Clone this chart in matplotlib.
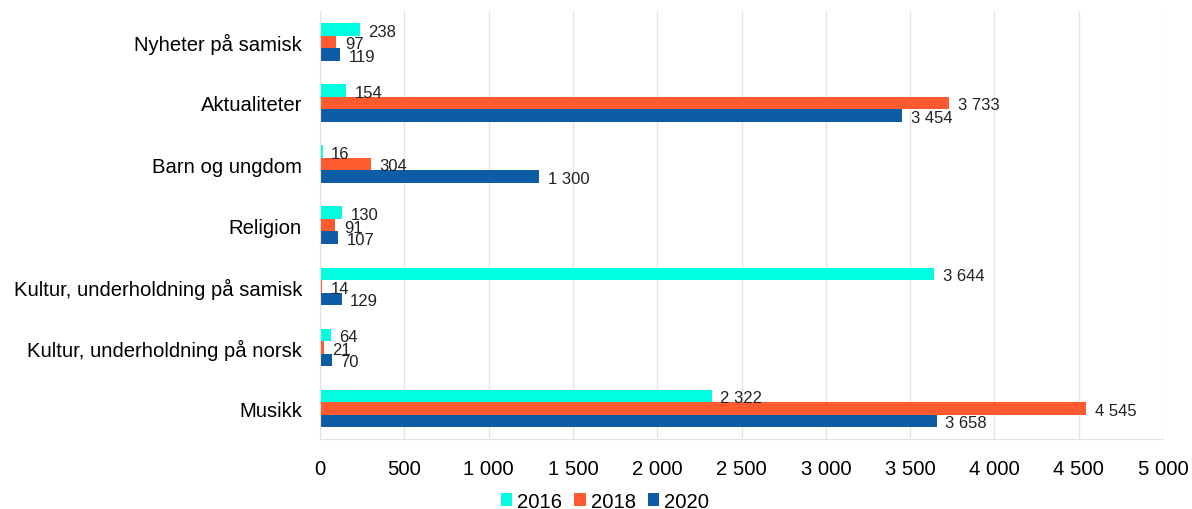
import numpy as np
import matplotlib.pyplot as plt

plt.rcParams['font.family'] = ['Liberation Sans', 'DejaVu Sans']

kategorier = ['Nyheter på samisk', 'Aktualiteter', 'Barn og ungdom', 'Religion',
              'Kultur, underholdning på samisk', 'Kultur, underholdning på norsk', 'Musikk']
aar = ['2016', '2018', '2020']
v2016 = [238, 154, 16, 130, 3644, 64, 2322]
v2018 = [97, 3733, 304, 91, 14, 21, 4545]
v2020 = [119, 3454, 1300, 107, 129, 70, 3658]
farger = ['#00FFE1', '#FF5A30', '#0F5CA6']


def fmt(v):
    return f'{v:,.0f}'.replace(',', '\u00a0')


fig = plt.figure(figsize=(11.92, 5.10), dpi=100)
ax = fig.add_axes([0.2685, 0.137, 0.7072, 0.839])

y = np.arange(len(kategorier))
h = 0.204
for i, (serie, farge, navn) in enumerate(zip([v2016, v2018, v2020], farger, aar)):
    pos = y + (i - 1) * h
    ax.barh(pos, serie, height=h, color=farge, label=navn)
    for p, v in zip(pos, serie):
        ax.text(v + 50, p + 0.03, fmt(v), va='center', ha='left', fontsize=12, color='#222222')

ax.set_ylim(len(kategorier) - 0.5, -0.5)
ax.set_xlim(0, 5000)
ax.set_xticks(np.arange(0, 5001, 500))
ax.set_xticklabels([fmt(t) for t in np.arange(0, 5001, 500)], fontsize=14.6)
ax.set_yticks(y)
ax.set_yticklabels(kategorier, fontsize=14.6)
ax.tick_params(axis='both', length=0)
ax.tick_params(axis='x', pad=14)
ax.tick_params(axis='y', pad=13)

ax.grid(axis='x', color='#E8E3DE', linewidth=1)
ax.set_axisbelow(True)
for s in ['top', 'right']:
    ax.spines[s].set_visible(False)
for s in ['left', 'bottom']:
    ax.spines[s].set_color('#E8E3DE')

ax.legend(loc='lower center', bbox_to_anchor=(0.338, -0.21), ncol=3, frameon=False,
          fontsize=14.6, handlelength=0.55, handleheight=0.55, handletextpad=0.25,
          columnspacing=0.6)

fig.savefig('out.png', dpi=100)
